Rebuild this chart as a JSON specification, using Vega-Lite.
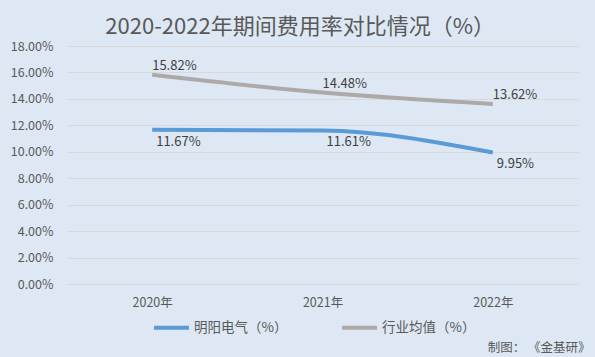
{
  "$schema": "https://vega.github.io/schema/vega-lite/v6.json",
  "autosize": "none",
  "width": 511,
  "height": 238,
  "padding": {"left": 67, "top": 46, "right": 17, "bottom": 73},
  "background": "#DDE8F4",
  "config": {
    "font": "Noto Sans CJK SC",
    "view": {"stroke": null},
    "axis": {"labelColor": "#595959", "labelFontSize": 12.5, "domain": false, "ticks": false}
  },
  "title": {
    "text": "2020-2022年期间费用率对比情况（%）",
    "fontSize": 22,
    "fontWeight": "normal",
    "color": "#595959",
    "anchor": "middle",
    "frame": "bounds",
    "offset": 1
  },
  "data": {
    "values": [
      {"year": "2020年", "series": "明阳电气（%）", "value": 0.1167},
      {"year": "2021年", "series": "明阳电气（%）", "value": 0.1161},
      {"year": "2022年", "series": "明阳电气（%）", "value": 0.0995},
      {"year": "2020年", "series": "行业均值（%）", "value": 0.1582},
      {"year": "2021年", "series": "行业均值（%）", "value": 0.1448},
      {"year": "2022年", "series": "行业均值（%）", "value": 0.1362}
    ]
  },
  "encoding": {
    "x": {
      "field": "year", "type": "nominal", "sort": null,
      "scale": {"paddingInner": 0, "paddingOuter": 0},
      "axis": {
        "labelAngle": 0, "labelPadding": 12, "grid": false,
        "title": "制图： 《金基研》", "titleAnchor": "end", "titleAlign": "right",
        "titleX": 523, "titleY": 57, "titleFontSize": 12.5, "titleFontWeight": "normal", "titleColor": "#595959"
      }
    },
    "y": {
      "field": "value", "type": "quantitative",
      "scale": {"domain": [0, 0.18], "nice": false},
      "axis": {
        "values": [0, 0.02, 0.04, 0.06, 0.08, 0.1, 0.12, 0.14, 0.16, 0.18],
        "format": ".2%",
        "labelPadding": 14, "gridColor": "#D9D9D9", "gridWidth": 1, "title": null
      }
    },
    "color": {
      "field": "series", "type": "nominal",
      "scale": {"domain": ["明阳电气（%）", "行业均值（%）"], "range": ["#5B9BD5", "#ADA9A9"]},
      "legend": {
        "orient": "none", "direction": "horizontal", "title": null,
        "legendX": 85, "legendY": 262,
        "symbolType": "M-1,0L1,0", "symbolSize": 1225, "symbolStrokeWidth": 4,
        "labelFontSize": 13.5, "labelColor": "#595959", "columnPadding": 46, "labelOffset": 3
      }
    }
  },
  "layer": [
    {"mark": {"type": "line", "strokeWidth": 4, "interpolate": "monotone"}},
    {
      "transform": [{"filter": "datum.series == '行业均值（%）'"}],
      "mark": {"type": "text", "align": "left", "dx": 0, "dy": -9, "fontSize": 13},
      "encoding": {"text": {"field": "value", "type": "quantitative", "format": ".2%"}, "color": {"value": "#404040"}}
    },
    {
      "transform": [{"filter": "datum.series == '明阳电气（%）'"}],
      "mark": {"type": "text", "align": "left", "dx": 4, "dy": 12, "fontSize": 13},
      "encoding": {"text": {"field": "value", "type": "quantitative", "format": ".2%"}, "color": {"value": "#404040"}}
    }
  ]
}
